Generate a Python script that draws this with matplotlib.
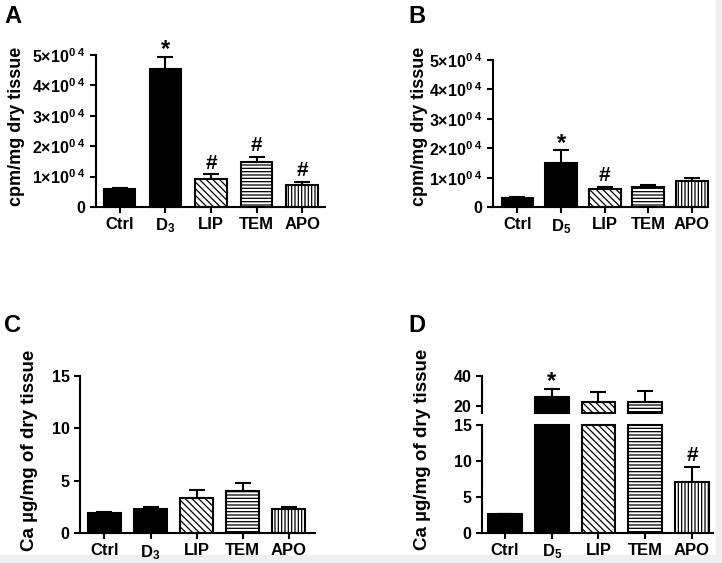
import numpy as np
import matplotlib
matplotlib.use("Agg")
import matplotlib.pyplot as plt
from matplotlib.patches import Rectangle

plt.rcParams["font.family"] = ["Liberation Sans", "DejaVu Sans"]
plt.rcParams["font.weight"] = "bold"
plt.rcParams["mathtext.fontset"] = "custom"
plt.rcParams["mathtext.rm"] = "Liberation Sans:bold"
plt.rcParams["mathtext.bf"] = "Liberation Sans:bold"
plt.rcParams["mathtext.it"] = "Liberation Sans:bold"
plt.rcParams["hatch.linewidth"] = 0.9
plt.rcParams["hatch.color"] = "#333333"

groups_a = ["Ctrl", r"$\mathbf{D_3}$", "LIP", "TEM", "APO"]
groups_b = ["Ctrl", r"$\mathbf{D_5}$", "LIP", "TEM", "APO"]

# panel A: cpm/mg dry tissue (D3)
a_mean = [5800, 45300, 9200, 14800, 7200]
a_err = [500, 4000, 1500, 1800, 1100]
a_marks = ["", "*", "#", "#", "#"]

# panel B: cpm/mg dry tissue (D5)
b_mean = [3100, 15200, 6100, 6900, 8950]
b_err = [500, 4100, 900, 700, 1050]
b_marks = ["", "*", "#", "", ""]

# panel C: Ca ug/mg (D3)
c_mean = [1.9, 2.3, 3.4, 4.05, 2.3]
c_err = [0.1, 0.2, 0.75, 0.7, 0.2]

# panel D: Ca ug/mg (D5), broken axis
d_mean = [2.6, 26.1, 22.8, 22.8, 7.1]
d_err = [0.1, 4.9, 6.2, 7.2, 2.1]
d_marks = ["", "*", "", "", "#"]

fills = ["black", "black", "white", "white", "white"]
hatches = [None, None, "\\\\\\\\\\", "-----", "|||||"]

cpm_ticks = [0, 10000, 20000, 30000, 40000, 50000]
cpm_labels = ["0"] + [r"$\mathbf{%d{\times}10^{0\ 4}}$" % k for k in range(1, 6)]

LW = 1.5


def style_axis(ax):
    for s in ["top", "right"]:
        ax.spines[s].set_visible(False)
    for s in ["left", "bottom"]:
        ax.spines[s].set_linewidth(LW)
    ax.tick_params(axis="both", width=LW, length=4, labelsize=11.5)
    ax.tick_params(axis="x", labelsize=12, pad=3)


def draw_bars(ax, x, heights, bottom=0, width=0.72):
    bars = ax.bar(x, heights, width=width, bottom=bottom, color=fills,
                  edgecolor="black", linewidth=LW, clip_on=False, zorder=2)
    for b, h in zip(bars, hatches):
        if h:
            b.set_hatch(h)
    return bars


def draw_err(ax, x, mean, err, marks=None, fs=15):
    x = np.asarray(x)
    ax.errorbar(x, mean, yerr=[np.zeros(len(x)), err], fmt="none", ecolor="black",
                elinewidth=LW, capsize=6, capthick=LW, zorder=1, clip_on=False)
    if marks:
        for xi, m, e, mk in zip(x, mean, err, marks):
            if mk:
                off = -3 if mk == "*" else 1
                ax.annotate(mk, (xi, m + e), xytext=(0, off), textcoords="offset points",
                            ha="center", va="bottom", fontsize=17 if mk == "*" else fs,
                            fontweight="bold")


fig = plt.figure(figsize=(7.22, 5.63), dpi=100)
fig.patch.set_facecolor("white")

x = np.arange(5)

# Panel A
axA = fig.add_axes([96 / 722, 1 - 207 / 563, 229 / 722, 152 / 563])
draw_bars(axA, x, a_mean, width=0.69)
draw_err(axA, x, a_mean, a_err, a_marks)
axA.set_ylim(0, 50000)
axA.set_xlim(-0.52, 4.5)
axA.set_yticks(cpm_ticks)
axA.set_yticklabels(cpm_labels)
axA.set_xticks(x)
axA.set_xticklabels(groups_a)
style_axis(axA)

# Panel B
axB = fig.add_axes([493 / 722, 1 - 207.3 / 563, 215 / 722, 147.3 / 563])
draw_bars(axB, x, b_mean, width=0.73)
draw_err(axB, x, b_mean, b_err, b_marks)
axB.set_ylim(0, 50000)
axB.set_xlim(-0.56, 4.37)
axB.set_yticks(cpm_ticks)
axB.set_yticklabels(cpm_labels)
axB.set_xticks(x)
axB.set_xticklabels(groups_b)
style_axis(axB)

# Panel C
axC = fig.add_axes([80 / 722, 1 - 533.3 / 563, 235 / 722, 157.3 / 563])
draw_bars(axC, x, c_mean, width=0.72)
draw_err(axC, x, c_mean, c_err)
axC.set_ylim(0, 15)
axC.set_xlim(-0.53, 4.57)
axC.set_yticks([0, 5, 10, 15])
axC.set_xticks(x)
axC.set_xticklabels(groups_a)
style_axis(axC)

# Panel D (broken y axis)
lo_top = 15
hi_bot, hi_top = 15.5, 40
d_mean = np.asarray(d_mean)
d_err = np.asarray(d_err)
low_mask = d_mean <= lo_top

axD = fig.add_axes([482 / 722, 1 - 533 / 563, 231 / 722, 108 / 563])
draw_bars(axD, x, np.minimum(d_mean, lo_top), width=0.72)
draw_err(axD, x[low_mask], d_mean[low_mask], d_err[low_mask],
         [m for m, k in zip(d_marks, low_mask) if k])
axD.set_ylim(0, lo_top)
axD.set_xlim(-0.49, 4.45)
axD.set_yticks([0, 5, 10, 15])
axD.set_xticks(x)
axD.set_xticklabels(groups_b)
style_axis(axD)

axD2 = fig.add_axes([482 / 722, 1 - 412.7 / 563, 231 / 722, 37 / 563])
hi = ~low_mask
draw_bars(axD2, x[hi], d_mean[hi] - hi_bot, bottom=hi_bot, width=0.72)
for b, h, f in zip(axD2.patches, np.array(hatches, dtype=object)[hi], np.array(fills)[hi]):
    b.set_facecolor(f)
    b.set_hatch(h)
draw_err(axD2, x[hi], d_mean[hi], d_err[hi], [m for m, k in zip(d_marks, hi) if k])
axD2.set_ylim(hi_bot, hi_top)
axD2.set_xlim(-0.49, 4.45)
axD2.set_yticks([20, 40])
axD2.set_xticks([])
style_axis(axD2)
axD2.spines["bottom"].set_visible(False)

# axis titles
lab_kw = dict(rotation=90, ha="center", va="center", fontweight="bold")
fig.text(17 / 722, 1 - 126.5 / 563, "cpm/mg dry tissue", fontsize=13, **lab_kw)
fig.text(420 / 722, 1 - 126.5 / 563, "cpm/mg dry tissue", fontsize=13, **lab_kw)
fig.text(30 / 722, 1 - 450.5 / 563, "Ca µg/mg of dry tissue", fontsize=13.5, **lab_kw)
fig.text(423 / 722, 1 - 449 / 563, "Ca µg/mg of dry tissue", fontsize=13.5, **lab_kw)

# panel letters
let_kw = dict(ha="left", va="top", fontsize=17, fontweight="bold")
fig.text(4 / 722, 1 - 5 / 563, "A", **let_kw)
fig.text(408 / 722, 1 - 5 / 563, "B", **let_kw)
fig.text(4 / 722, 1 - 314 / 563, "C", **let_kw)
fig.text(408 / 722, 1 - 314 / 563, "D", **let_kw)

# light grey frame on the image edges
fig.add_artist(Rectangle((0, 0), 1, 8 / 563, transform=fig.transFigure,
                         color="#efefef", zorder=-1))
fig.add_artist(Rectangle((1 - 6 / 722, 0), 6 / 722, 1, transform=fig.transFigure,
                         color="#efefef", zorder=-1))

fig.savefig("out.png", dpi=100)
